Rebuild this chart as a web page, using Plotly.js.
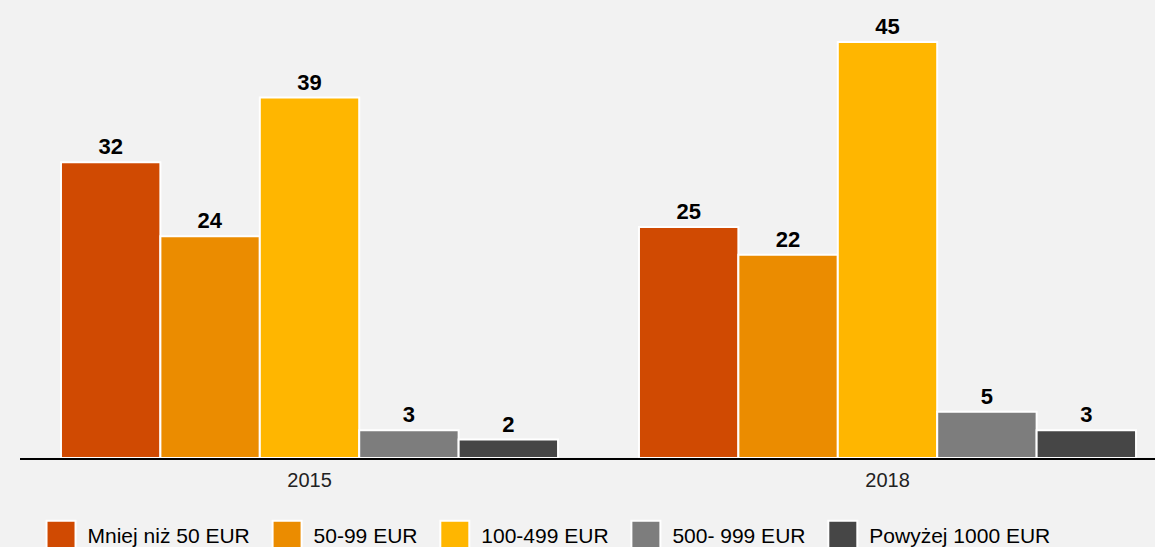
<!DOCTYPE html>
<html>
<head>
<meta charset="utf-8">
<script src="https://cdn.plot.ly/plotly-3.0.1.min.js"></script>
<style>
html,body{margin:0;padding:0;background:#f2f2f2;}
#chart{width:1155px;height:547px;}
</style>
</head>
<body>
<div id="chart"></div>
<script>
const years = ["2015", "2018"];
const seriesNames = ["Mniej niż 50 EUR", "50-99 EUR", "100-499 EUR", "500- 999 EUR", "Powyżej 1000 EUR"];
const mniej50 = [32, 25];
const eur50_99 = [24, 22];
const eur100_499 = [39, 45];
const eur500_999 = [3, 5];
const powyzej1000 = [2, 3];
const colors = ["#D04A02", "#EB8C00", "#FFB600", "#7D7D7D", "#464646"];

const values = [mniej50, eur50_99, eur100_499, eur500_999, powyzej1000];
const font = "Arial, 'Liberation Sans', sans-serif";

const traces = values.map((v, i) => ({
  type: "bar",
  name: seriesNames[i] + "\u00a0",
  x: years,
  y: v,
  text: v.map(String),
  texttemplate: "<b>%{text}</b>",
  textposition: "outside",
  cliponaxis: false,
  textfont: {family: font, size: 22, color: "#000000"},
  marker: {color: colors[i], line: {color: "#ffffff", width: 2}},
  hoverinfo: "x+y+name"
}));

const layout = {
  width: 1155,
  height: 547,
  paper_bgcolor: "#f2f2f2",
  plot_bgcolor: "#f2f2f2",
  margin: {l: 20, r: 0, t: 0, b: 89, pad: 0, autoexpand: false},
  barmode: "group",
  bargap: 0.14,
  bargroupgap: 0,
  showlegend: true,
  legend: {
    orientation: "h",
    x: 0.0128, xanchor: "left",
    y: -0.1245, yanchor: "top",
    font: {family: font, size: 21, color: "#000000"},
    itemwidth: 43,
    bgcolor: "rgba(0,0,0,0)"
  },
  xaxis: {
    type: "category",
    range: [-0.5009, 1.4628],
    showline: true,
    linecolor: "#000000",
    linewidth: 2,
    ticks: "",
    ticklabelstandoff: 3,
    showgrid: false,
    zeroline: false,
    tickfont: {family: font, size: 20, color: "#222222"},
    fixedrange: true
  },
  yaxis: {
    range: [0, 49.55],
    visible: false,
    showgrid: false,
    zeroline: false,
    fixedrange: true
  }
};

Plotly.newPlot("chart", traces, layout, {displayModeBar: false, staticPlot: true}).then(() => {
  document.querySelectorAll("#chart .legend .legendpoints path").forEach(p => {
    p.setAttribute("d", "M14.5,14.5H-14.5V-14.5H14.5Z");
  });
});
</script>
</body>
</html>
